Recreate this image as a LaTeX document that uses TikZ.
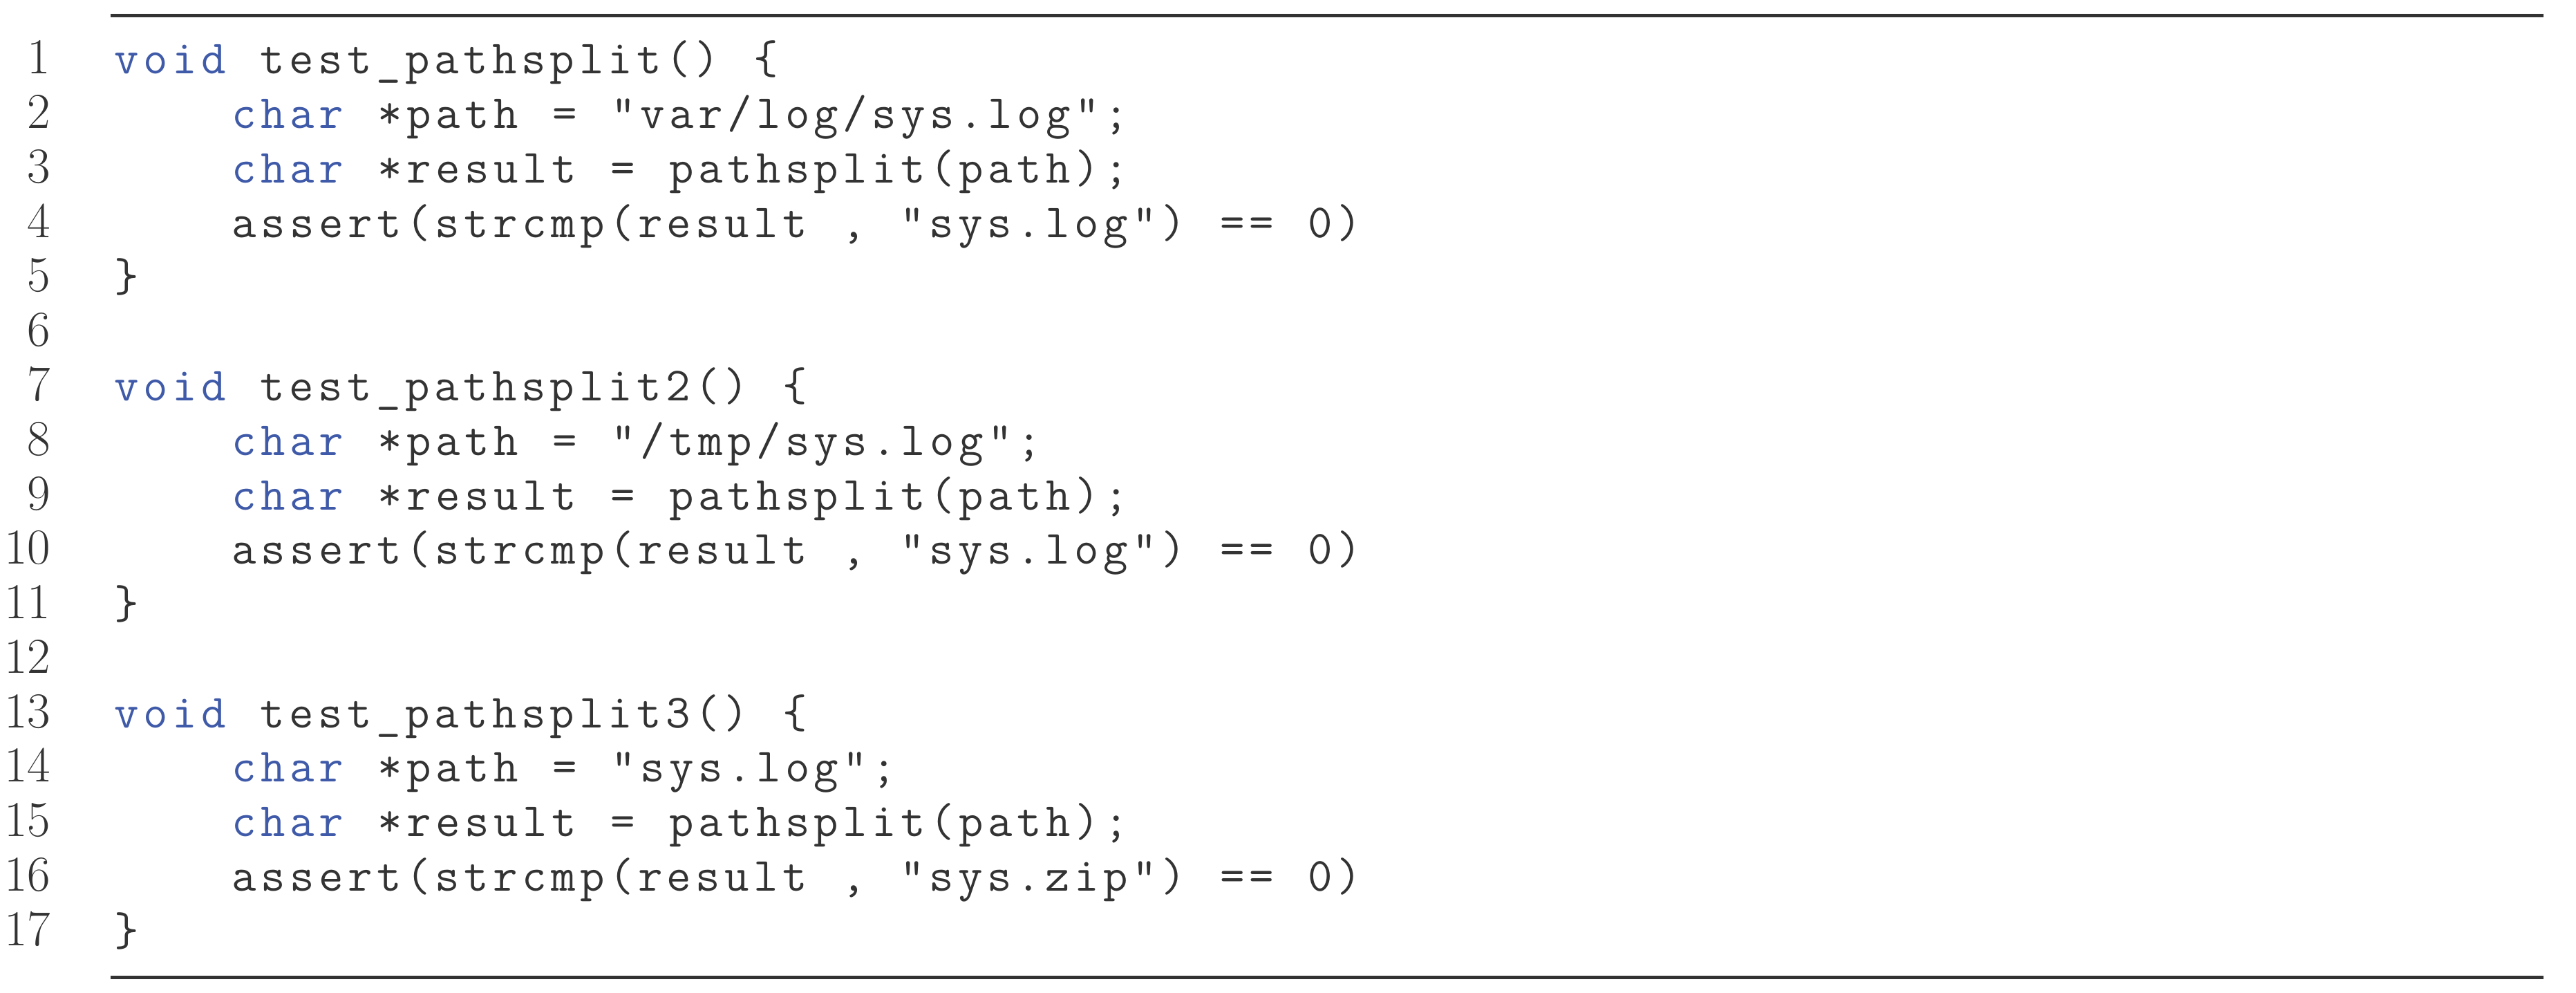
\documentclass[tikz,border=0pt]{standalone}
\usepackage{fontspec}
\newfontfamily\codefont[LetterSpace=9.4,WordSpace={1.18,0,0}]{Latin Modern Mono}
\definecolor{kw}{HTML}{3F5AA8}
\definecolor{tx}{HTML}{333333}
\begin{document}
\begin{tikzpicture}[x=1cm,y=1cm,
  code/.style={anchor=base west,inner sep=0pt,text=tx,font=\codefont\fontsize{19.6pt}{20pt}\selectfont},
  lnum/.style={anchor=base east,inner sep=0pt,text=tx,font=\fontsize{20.7pt}{21pt}\selectfont},
  rulestyle/.style={draw=tx,line width=5pt*0.2845}]
\useasboundingbox (0,0) rectangle (37.27,-14.36);
\draw[rulestyle] (1.60,-0.23) coordinate (t1) -- (36.80,-0.23) coordinate (t2);
\draw[rulestyle] (1.60,-14.13) coordinate (b1) -- (36.80,-14.13) coordinate (b2);
\def\K#1{\textcolor{kw}{#1}}
\foreach \n/\ind/\txt in {
 1/0/{\K{void} test\_pathsplit() \{},
 2/4/{\K{char} *path = "var/log/sys.log";},
 3/4/{\K{char} *result = pathsplit(path);},
 4/4/{assert(strcmp(result , "sys.log") == 0)},
 5/0/{\}},
 6/0/{},
 7/0/{\K{void} test\_pathsplit2() \{},
 8/4/{\K{char} *path = "/tmp/sys.log";},
 9/4/{\K{char} *result = pathsplit(path);},
 10/4/{assert(strcmp(result , "sys.log") == 0)},
 11/0/{\}},
 12/0/{},
 13/0/{\K{void} test\_pathsplit3() \{},
 14/4/{\K{char} *path = "sys.log";},
 15/4/{\K{char} *result = pathsplit(path);},
 16/4/{assert(strcmp(result , "sys.zip") == 0)},
 17/0/{\}}}{
  \pgfmathsetmacro\yy{-1.07-(\n-1)*0.7875}
  \node[lnum] (n\n) at (0.74,\yy) {\n};
  \node[code] (c\n) at ({1.65+\ind*0.425},\yy) {\txt};
}
\end{tikzpicture}
\end{document}
